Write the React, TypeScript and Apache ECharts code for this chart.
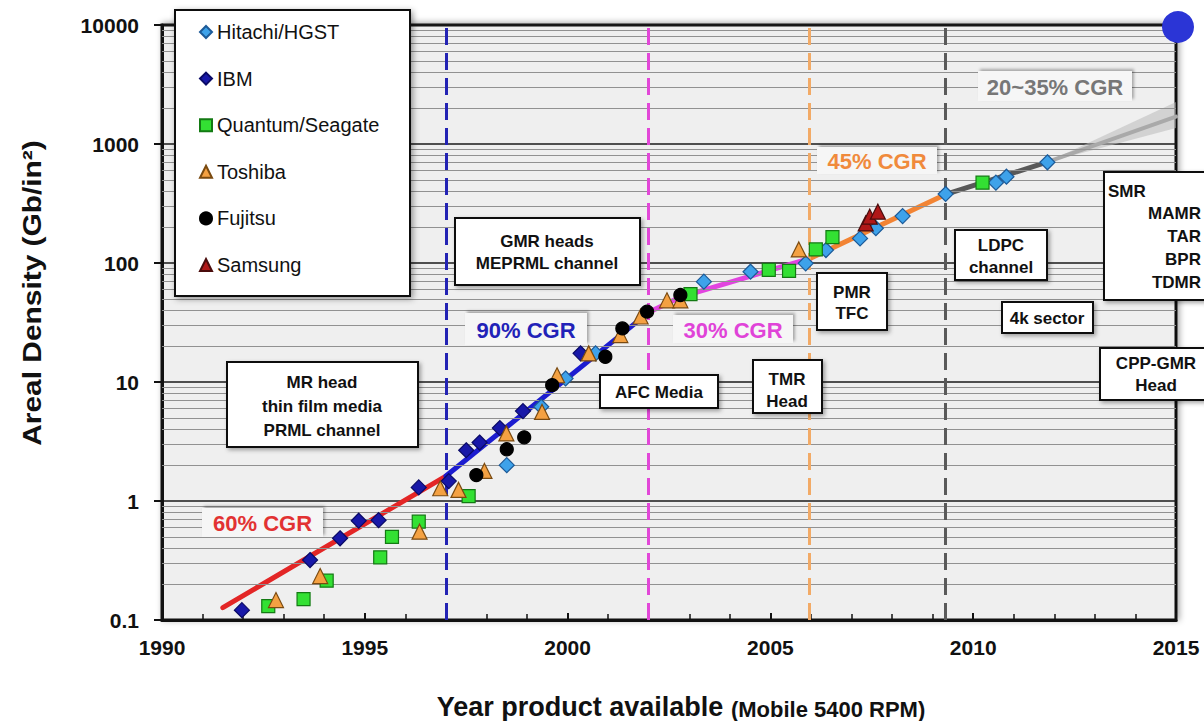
import React, { useEffect, useRef } from "react";
import * as echarts from "echarts";

// ---- axes ----
const YEAR_MIN = 1990;
const YEAR_MAX = 2015;
const DENSITY_MIN = 0.1;
const DENSITY_MAX = 10000;
const DECADES = [0.1, 1, 10, 100, 1000];
const MINOR_MULTIPLIERS = [2, 3, 4, 5, 6, 7, 8, 9];

// ---- data: [year, areal density Gb/in2] ----
const hitachi = [
  [1998.5, 2.0], [1999.35, 6.2], [1999.95, 10.7], [2000.69, 17.4], [2003.36, 69.7],
  [2004.51, 84.5], [2005.87, 99.4], [2006.37, 128.5], [2007.21, 161], [2007.6, 196],
  [2008.26, 248], [2009.32, 380], [2010.56, 473], [2010.82, 531], [2011.83, 702],
];
const ibm = [
  [1991.97, 0.121], [1993.65, 0.319], [1994.39, 0.486], [1994.85, 0.683], [1995.34, 0.69],
  [1996.33, 1.3], [1997.07, 1.47], [1997.5, 2.67], [1997.83, 3.1], [1998.33, 4.1],
  [1998.9, 5.7], [2000.32, 17.4],
];
const quantumSeagate = [
  [1992.62, 0.131], [1993.49, 0.15], [1994.06, 0.214], [1995.38, 0.336], [1995.67, 0.5],
  [1996.33, 0.67], [1997.56, 1.1], [2003.03, 54.8], [2004.96, 87.5], [2005.46, 86],
  [2006.12, 130], [2006.53, 165], [2010.23, 473],
];
const toshiba = [
  [1992.81, 0.147], [1993.9, 0.234], [1996.35, 0.552], [1996.86, 1.28], [1997.31, 1.24],
  [1997.95, 1.79], [1998.49, 3.7], [1999.37, 5.6], [1999.74, 11.4], [2000.52, 17.4],
  [2001.3, 24.8], [2001.8, 35.5], [2002.45, 48.6], [2002.78, 48.6], [2005.7, 130],
];
const fujitsu = [
  [1997.75, 1.65], [1998.5, 2.72], [1998.93, 3.43], [1999.62, 9.4], [2000.93, 16.3],
  [2001.35, 28.2], [2001.96, 39], [2002.78, 53.8],
];
const samsung = [[2007.35, 215], [2007.45, 245], [2007.65, 270]];

// ---- growth trend segments ----
const trend60 = [[1991.5, 0.127], [1997.0, 1.62]];
const trend90 = [[1997.0, 1.62], [2002.0, 38.5]];
const trend30 = [[2002.0, 38.5], [2002.8, 52], [2006.0, 110]];
const trend45 = [[2006.0, 110], [2009.3, 375]];
const trendRecent = [[2009.3, 375], [2011.8, 700]];
const trendFuture = [[2011.8, 700], [2015.0, 1700]];
const fanUpper = [[2011.8, 700], [2015.0, 2250]];
const fanLower = [[2011.8, 700], [2015.0, 1360]];

// ---- technology transition years ----
const transitions = [
  { year: 1997.0, color: "#2323b4" },
  { year: 2002.0, color: "#e247d8" },
  { year: 2005.95, color: "#f2aa66" },
  { year: 2009.3, color: "#5a5a5a" },
];

const FONT = '"Liberation Sans", Arial, Helvetica, sans-serif';

function box(x: number, y: number, w: number, h: number, lines: string, cx: number, cy: number, lh = 23) {
  return {
    type: "group",
    z: 10,
    children: [
      {
        type: "rect",
        shape: { x, y, width: w, height: h },
        style: { fill: "#fff", stroke: "#111", lineWidth: 2, shadowBlur: 4, shadowColor: "rgba(0,0,0,0.35)", shadowOffsetX: 2, shadowOffsetY: 2 },
        z: 10,
      },
      {
        type: "text",
        x: cx,
        y: cy,
        style: { text: lines, font: `bold 17px ${FONT}`, fill: "#111", align: "center", verticalAlign: "middle", lineHeight: lh },
        z: 11,
      },
    ],
  };
}

function cgr(x: number, y: number, w: number, h: number, text: string, color: string) {
  return {
    type: "group",
    z: 10,
    children: [
      {
        type: "rect",
        shape: { x, y, width: w, height: h },
        style: { fill: "#f6f6f6", shadowBlur: 3, shadowColor: "rgba(0,0,0,0.3)", shadowOffsetX: 2, shadowOffsetY: -2 },
        z: 10,
      },
      {
        type: "text",
        x: x + w / 2,
        y: y + h / 2 + 1,
        style: { text, font: `bold 22px ${FONT}`, fill: color, align: "center", verticalAlign: "middle" },
        z: 11,
      },
    ],
  };
}

function scatter(name: string, data: number[][], symbol: string, size: number, fill: string, border: string) {
  return {
    name,
    type: "scatter",
    data,
    symbol,
    symbolSize: size,
    itemStyle: { color: fill, borderColor: border, borderWidth: 1.2, opacity: 1 },
    z: 5,
  };
}

function trend(data: number[][], color: string, width = 5) {
  return {
    type: "line",
    data,
    showSymbol: false,
    silent: true,
    lineStyle: { color, width, cap: "round" },
    z: 3,
  };
}

export default function App() {
  const ref = useRef<HTMLDivElement>(null);

  useEffect(() => {
    const chart = echarts.init(ref.current!, null, { renderer: "svg" });

    const minorValues: number[] = [];
    DECADES.forEach((d) => MINOR_MULTIPLIERS.forEach((m) => minorValues.push(+(d * m).toPrecision(3))));

    const option: any = {
      animation: false,
      backgroundColor: "#ffffff",
      textStyle: { fontFamily: FONT },
      grid: {
        left: 162,
        right: 28,
        top: 25,
        bottom: 101,
        show: true,
        backgroundColor: "#efefef",
        borderColor: "#111",
        borderWidth: 3,
        shadowBlur: 6,
        shadowColor: "rgba(0,0,0,0.35)",
        shadowOffsetX: 2,
        shadowOffsetY: -1,
      },
      xAxis: {
        type: "value",
        min: YEAR_MIN,
        max: YEAR_MAX,
        interval: 5,
        axisLine: { show: true, onZero: false, lineStyle: { color: "#111", width: 3 } },
        axisTick: { show: true, inside: true, length: 7, lineStyle: { color: "#111", width: 2 } },
        minorTick: { show: true, splitNumber: 5, length: 6, lineStyle: { color: "#111", width: 1.5 } },
        splitLine: { show: false },
        axisLabel: {
          formatter: (v: number) => String(v),
          fontSize: 21,
          fontWeight: "bold",
          color: "#111",
          margin: 17,
          fontFamily: FONT,
        },
      },
      yAxis: {
        type: "log",
        logBase: 10,
        min: DENSITY_MIN,
        max: DENSITY_MAX,
        axisLine: { show: true, onZero: false, lineStyle: { color: "#111", width: 3 } },
        axisTick: { show: true, inside: false, length: 8, lineStyle: { color: "#111", width: 2 } },
        splitLine: { show: true, lineStyle: { color: "#1a1a1a", width: 1.6 } },
        axisLabel: {
          formatter: (v: number) => (v < 1 ? v.toFixed(1) : String(Math.round(v))),
          fontSize: 21,
          fontWeight: "bold",
          color: "#111",
          margin: 23,
          fontFamily: FONT,
        },
      },
      legend: {
        orient: "vertical",
        left: 199,
        top: 22,
        itemGap: 26.6,
        itemWidth: 12,
        itemHeight: 12,
        padding: 0,
        z: 12,
        selectedMode: false,
        textStyle: { fontSize: 20, color: "#111", fontFamily: FONT, lineHeight: 20 },
        data: ["Hitachi/HGST", "IBM", "Quantum/Seagate", "Toshiba", "Fujitsu", "Samsung"],
      },
      series: [
        {
          type: "line",
          data: [],
          silent: true,
          z: 1,
          markLine: {
            silent: true,
            symbol: "none",
            label: { show: false },
            lineStyle: { color: "#919191", width: 1, type: "solid" },
            data: minorValues.map((v) => ({ yAxis: v })),
          },
        },
        {
          type: "line",
          data: [],
          silent: true,
          z: 2,
          markLine: {
            silent: true,
            symbol: "none",
            label: { show: false },
            data: transitions.map((t) => ({
              xAxis: t.year,
              lineStyle: { color: t.color, width: 3, type: [17, 8] },
            })),
          },
        },
        {
          type: "custom",
          silent: true,
          z: 2,
          data: [[2013, 1000]],
          renderItem: (_params: any, api: any) => {
            const pts = [...fanUpper, ...fanLower.slice().reverse()].map((p) => api.coord(p));
            return { type: "polygon", shape: { points: pts }, style: { fill: "rgba(185,185,185,0.55)" } };
          },
        },
        trend(trend60, "#e32626"),
        trend(trend90, "#1c1cd0"),
        trend(trend30, "#e244e0"),
        trend(trend45, "#f28434"),
        trend(trendRecent, "#595959"),
        trend(trendFuture, "#a9a9a9", 4),
        scatter("Hitachi/HGST", hitachi, "diamond", 15, "#3ea2ea", "#1c5a98"),
        scatter("IBM", ibm, "diamond", 15, "#1818a8", "#0a0a66"),
        scatter("Quantum/Seagate", quantumSeagate, "rect", 13, "#33e033", "#137a13"),
        scatter("Toshiba", toshiba, "triangle", 15, "#f4a142", "#7a4a10"),
        scatter("Fujitsu", fujitsu, "circle", 13, "#000000", "#000000"),
        scatter("Samsung", samsung, "triangle", 15, "#b01818", "#4a0c0c"),
      ],
      graphic: [
        // legend frame
        {
          type: "rect",
          z: 10,
          shape: { x: 175, y: 10, width: 235, height: 286 },
          style: { fill: "#fff", stroke: "#111", lineWidth: 2, shadowBlur: 6, shadowColor: "rgba(0,0,0,0.4)", shadowOffsetX: 2, shadowOffsetY: 2 },
        },
        box(227, 362, 191, 85, "MR head\nthin film media\nPRML channel", 322, 406, 24),
        box(455, 218, 185, 67, "GMR heads\nMEPRML channel", 547, 252, 22),
        box(600, 375, 118, 33, "AFC Media", 659, 392),
        box(753, 360, 69, 53, "TMR\nHead", 787, 390, 22),
        box(817, 273, 70, 57, "PMR\nTFC", 852, 303, 21),
        box(955, 230, 92, 50, "LDPC\nchannel", 1001, 256, 22),
        box(1002, 302, 91, 31, "4k sector", 1047, 318),
        box(1100, 348, 115, 52, "CPP-GMR\nHead", 1156, 374, 22),
        {
          type: "group",
          z: 10,
          children: [
            {
              type: "rect",
              z: 10,
              shape: { x: 1104, y: 172, width: 115, height: 128 },
              style: { fill: "#fff", stroke: "#111", lineWidth: 2, shadowBlur: 4, shadowColor: "rgba(0,0,0,0.35)", shadowOffsetX: 2, shadowOffsetY: 2 },
            },
            { type: "text", z: 11, x: 1108, y: 191, style: { text: "SMR", font: `bold 17px ${FONT}`, fill: "#111", align: "left", verticalAlign: "middle" } },
            { type: "text", z: 11, x: 1201, y: 213, style: { text: "MAMR", font: `bold 17px ${FONT}`, fill: "#111", align: "right", verticalAlign: "middle" } },
            { type: "text", z: 11, x: 1201, y: 236, style: { text: "TAR", font: `bold 17px ${FONT}`, fill: "#111", align: "right", verticalAlign: "middle" } },
            { type: "text", z: 11, x: 1201, y: 259, style: { text: "BPR", font: `bold 17px ${FONT}`, fill: "#111", align: "right", verticalAlign: "middle" } },
            { type: "text", z: 11, x: 1201, y: 282, style: { text: "TDMR", font: `bold 17px ${FONT}`, fill: "#111", align: "right", verticalAlign: "middle" } },
          ],
        },
        cgr(202, 508, 121, 29, "60% CGR", "#e23232"),
        cgr(465, 313, 122, 32, "90% CGR", "#2222b8"),
        cgr(673, 315, 120, 28, "30% CGR", "#e043d8"),
        cgr(817, 147, 120, 27, "45% CGR", "#f08a3c"),
        cgr(978, 71, 154, 30, "20~35% CGR", "#777777"),
        // axis titles
        {
          type: "text",
          z: 10,
          x: 32,
          y: 293,
          rotation: Math.PI / 2,
          scaleX: 1.15,
          style: { text: "Areal Density (Gb/in²)", font: `bold 26px ${FONT}`, fill: "#111", align: "center", verticalAlign: "middle" },
        },
        {
          type: "text",
          z: 10,
          x: 681,
          y: 707,
          style: {
            text: "{a|Year product available }{b|(Mobile 5400 RPM)}",
            align: "center",
            verticalAlign: "middle",
            rich: {
              a: { font: `bold 27px ${FONT}`, fill: "#111", verticalAlign: "bottom" },
              b: { font: `bold 22px ${FONT}`, fill: "#111", verticalAlign: "bottom" },
            },
          },
        },
        // corner marker dot
        { type: "circle", z: 20, shape: { cx: 1178, cy: 27, r: 16 }, style: { fill: "#2b35d6" } },
      ],
    };

    chart.setOption(option);
    return () => chart.dispose();
  }, []);

  return (
    <div
      ref={ref}
      style={{ position: "absolute", left: 0, top: 0, width: 1204, height: 721, background: "#fff" }}
    />
  );
}
